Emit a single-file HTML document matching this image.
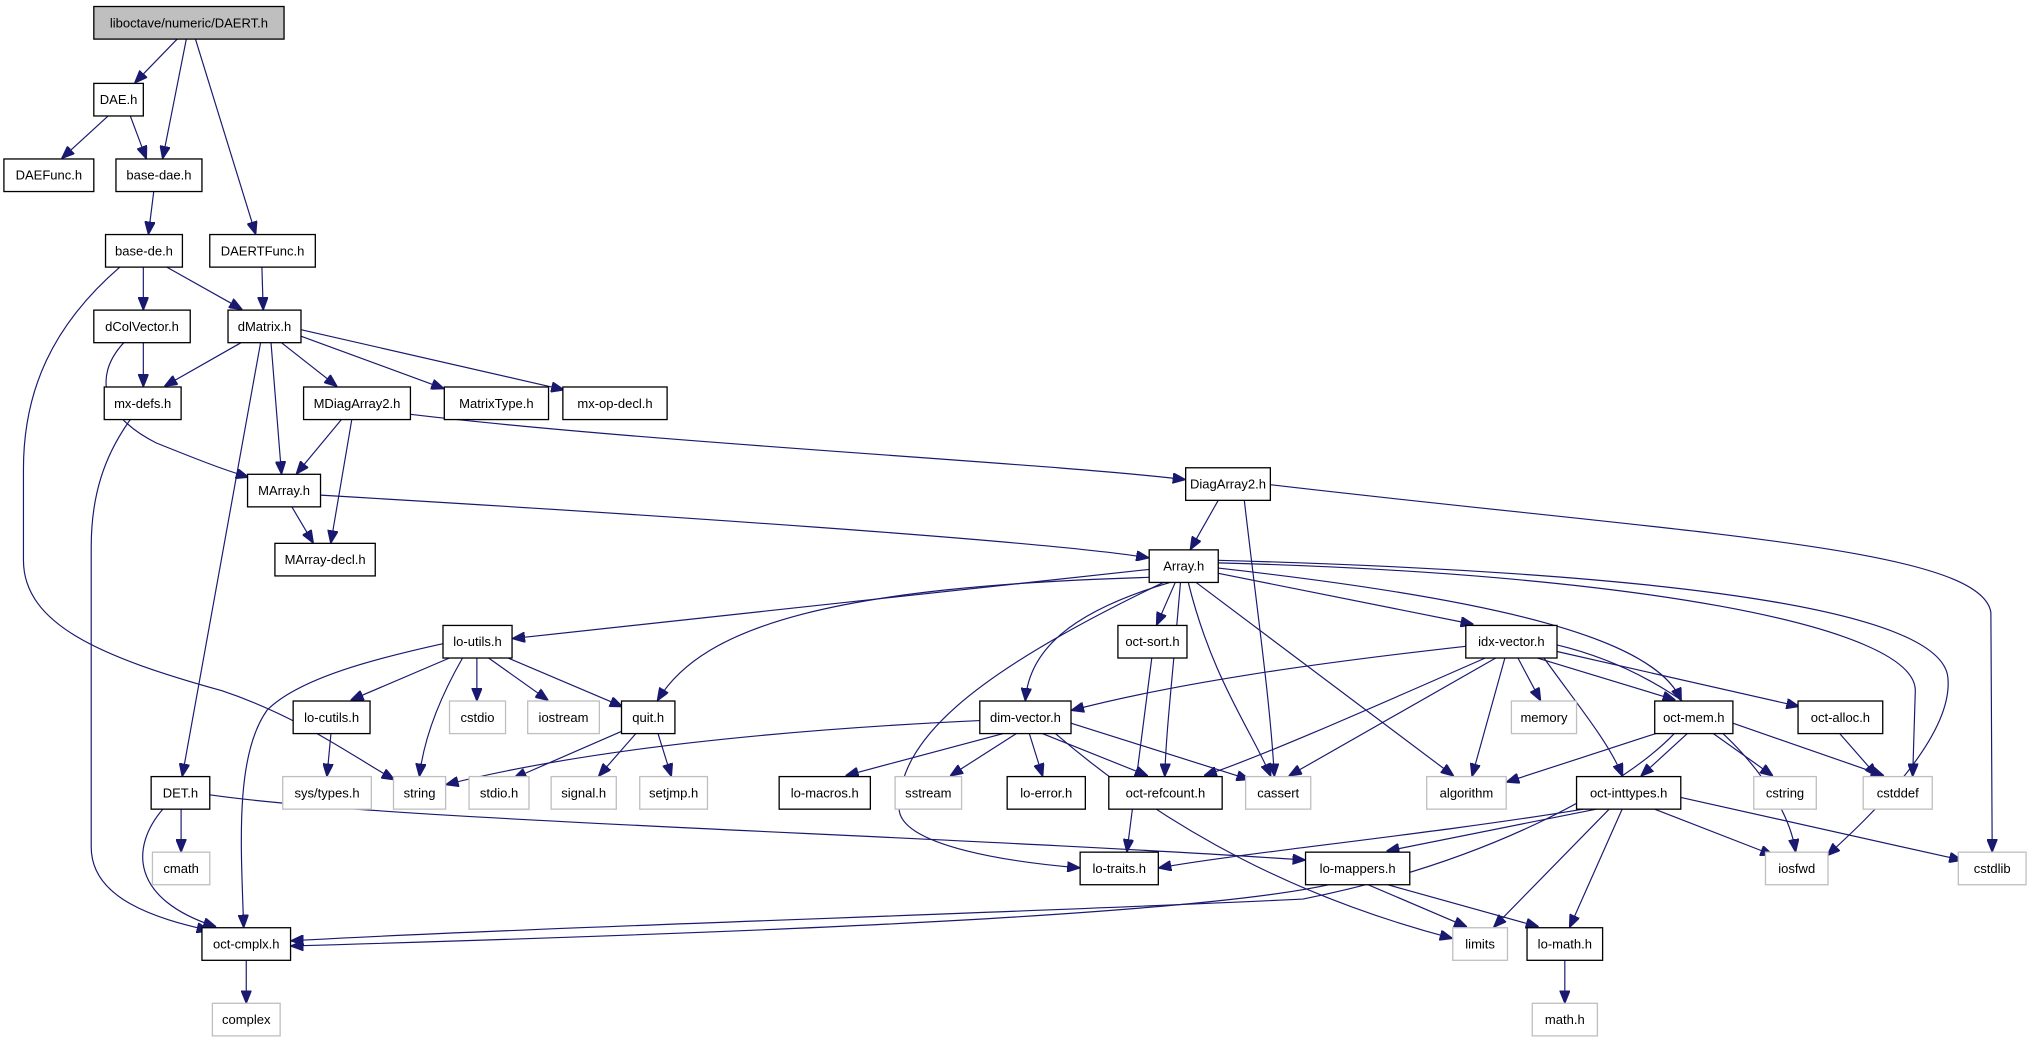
<!DOCTYPE html>
<html><head><meta charset="utf-8"><style>
html,body{margin:0;padding:0;background:#fff;}
svg{display:block;}
text{font-family:"Liberation Sans",sans-serif;font-size:10px;text-anchor:middle;dominant-baseline:central;fill:#000;}
.n{fill:#fff;stroke:#000;stroke-width:1;}
.g{fill:#fff;stroke:#bfbfbf;stroke-width:1;}
path{fill:none;stroke:#191970;stroke-width:0.9;marker-end:url(#a);}
</style></head><body>
<svg width="2043" height="1045" viewBox="0 0 1568 802" preserveAspectRatio="none" xmlns="http://www.w3.org/2000/svg">
<defs><marker id="a" markerUnits="userSpaceOnUse" markerWidth="10" markerHeight="8" refX="9" refY="4" orient="auto"><path d="M0,0 L10,4 L0,8 z" style="fill:#191970;stroke:#191970;marker-end:none"/></marker></defs>
<g>
<path d="M136,30 L104,63"/>
<path d="M143,30 L125,121"/>
<path d="M150,30 L196,179"/>
<path d="M83,89 L48,121"/>
<path d="M100,89 L112,121"/>
<path d="M118,147 L114,179"/>
<path d="M110,205 L110,237"/>
<path d="M128,205 L185,237"/>
<path d="M92,205 C40,250 18,300 18,360 L18,430 C18,480 80,505 170,530 C230,550 270,580 302,598"/>
<path d="M201,205 L202,237"/>
<path d="M110,263 L110,296"/>
<path d="M95,263 C70,290 80,320 120,340 C150,352 170,360 190,366"/>
<path d="M185,263 L127,296"/>
<path d="M208,263 L216,363"/>
<path d="M216,263 L258,296"/>
<path d="M231,258 L340,298"/>
<path d="M231,253 L432,299"/>
<path d="M200,263 L140,595"/>
<path d="M100,322 C80,350 70,380 70,420 L70,650 C70,690 120,705 160,714"/>
<path d="M262,322 L228,363"/>
<path d="M270,322 L254,416"/>
<path d="M315,318 C500,340 800,355 909,368"/>
<path d="M224,389 L240,416"/>
<path d="M246,380 C500,395 800,415 881,428"/>
<path d="M935,384 L914,421"/>
<path d="M955,384 C965,470 975,540 978,595"/>
<path d="M975,372 C1300,410 1520,420 1528,470 L1529,653"/>
<path d="M882,437 L394,490"/>
<path d="M885,443 C640,450 540,480 505,537"/>
<path d="M893,447 C740,520 690,570 690,620 C690,650 780,662 828,666"/>
<path d="M898,447 C820,470 790,500 787,537"/>
<path d="M902,447 L888,479"/>
<path d="M906,447 C900,520 895,560 894,595"/>
<path d="M912,447 C930,520 960,560 975,595"/>
<path d="M918,447 L1115,595"/>
<path d="M935,440 L1130,479"/>
<path d="M935,436 C1150,460 1270,490 1290,537"/>
<path d="M935,432 C1250,440 1470,480 1470,530 L1468,595"/>
<path d="M935,430 C1300,440 1490,470 1495,520 C1500,570 1420,640 1403,656"/>
<path d="M1125,496 C1000,510 900,525 823,545"/>
<path d="M1140,505 C1060,540 970,580 925,595"/>
<path d="M1148,505 L990,595"/>
<path d="M1165,505 L1182,537"/>
<path d="M1155,505 L1130,595"/>
<path d="M1180,505 L1285,537"/>
<path d="M1185,505 C1210,540 1235,570 1245,595"/>
<path d="M1195,500 L1380,542"/>
<path d="M1195,495 C1300,520 1370,600 1378,653"/>
<path d="M340,494 C290,505 230,520 205,545 C180,580 185,650 187,711"/>
<path d="M345,505 L270,537"/>
<path d="M355,505 C335,540 325,570 322,595"/>
<path d="M366,505 L366,537"/>
<path d="M375,505 L420,537"/>
<path d="M390,505 L477,542"/>
<path d="M480,560 L395,597"/>
<path d="M488,563 L460,595"/>
<path d="M505,563 L515,595"/>
<path d="M254,563 L251,595"/>
<path d="M752,553 C600,560 450,575 343,602"/>
<path d="M770,563 L650,595"/>
<path d="M780,563 L730,595"/>
<path d="M790,563 L800,595"/>
<path d="M800,563 L880,595"/>
<path d="M822,555 L958,598"/>
<path d="M810,563 C900,640 1000,690 1114,720"/>
<path d="M1280,560 L1157,600"/>
<path d="M1315,563 L1360,595"/>
<path d="M1330,555 L1445,595"/>
<path d="M1295,563 L1260,595"/>
<path d="M1285,563 C1250,600 1150,660 1000,690 C800,700 400,712 224,722"/>
<path d="M1412,563 L1440,595"/>
<path d="M884,505 L865,653"/>
<path d="M139,621 L139,653"/>
<path d="M125,621 C100,650 100,690 165,711"/>
<path d="M161,610 C300,630 700,640 1001,660"/>
<path d="M1215,621 C1100,640 950,655 890,666"/>
<path d="M1225,621 L1065,653"/>
<path d="M1235,621 L1147,711"/>
<path d="M1245,621 L1205,711"/>
<path d="M1270,621 L1360,656"/>
<path d="M1290,612 L1505,660"/>
<path d="M1020,679 C900,705 500,718 224,726"/>
<path d="M1050,679 L1125,711"/>
<path d="M1065,679 L1180,711"/>
<path d="M189,737 L189,769"/>
<path d="M1201,737 L1201,769"/>
</g>
<g>
<rect x="72" y="5" width="146" height="25" style="fill:#bfbfbf;stroke:#000"/><text x="145" y="17.5">liboctave/numeric/DAERT.h</text>
<rect class="n" x="72" y="64" width="38" height="25"/><text x="91" y="76.5">DAE.h</text>
<rect class="n" x="3" y="122" width="69" height="25"/><text x="37.5" y="134.5">DAEFunc.h</text>
<rect class="n" x="89" y="122" width="66" height="25"/><text x="122" y="134.5">base-dae.h</text>
<rect class="n" x="81" y="180" width="59" height="25"/><text x="110.5" y="192.5">base-de.h</text>
<rect class="n" x="161" y="180" width="81" height="25"/><text x="201.5" y="192.5">DAERTFunc.h</text>
<rect class="n" x="72" y="238" width="74" height="25"/><text x="109" y="250.5">dColVector.h</text>
<rect class="n" x="175" y="238" width="56" height="25"/><text x="203" y="250.5">dMatrix.h</text>
<rect class="n" x="80" y="297" width="59" height="25"/><text x="109.5" y="309.5">mx-defs.h</text>
<rect class="n" x="233" y="297" width="82" height="25"/><text x="274" y="309.5">MDiagArray2.h</text>
<rect class="n" x="341" y="297" width="80" height="25"/><text x="381" y="309.5">MatrixType.h</text>
<rect class="n" x="432" y="297" width="80" height="25"/><text x="472" y="309.5">mx-op-decl.h</text>
<rect class="n" x="190" y="364" width="56" height="25"/><text x="218" y="376.5">MArray.h</text>
<rect class="n" x="211" y="417" width="77" height="25"/><text x="249.5" y="429.5">MArray-decl.h</text>
<rect class="n" x="910" y="359" width="65" height="25"/><text x="942.5" y="371.5">DiagArray2.h</text>
<rect class="n" x="882" y="422" width="53" height="25"/><text x="908.5" y="434.5">Array.h</text>
<rect class="n" x="340" y="480" width="53" height="25"/><text x="366.5" y="492.5">lo-utils.h</text>
<rect class="n" x="858" y="480" width="53" height="25"/><text x="884.5" y="492.5">oct-sort.h</text>
<rect class="n" x="1125" y="480" width="70" height="25"/><text x="1160" y="492.5">idx-vector.h</text>
<rect class="n" x="225" y="538" width="59" height="25"/><text x="254.5" y="550.5">lo-cutils.h</text>
<rect class="g" x="345" y="538" width="43" height="25"/><text x="366.5" y="550.5">cstdio</text>
<rect class="g" x="405" y="538" width="55" height="25"/><text x="432.5" y="550.5">iostream</text>
<rect class="n" x="477" y="538" width="41" height="25"/><text x="497.5" y="550.5">quit.h</text>
<rect class="n" x="752" y="538" width="70" height="25"/><text x="787" y="550.5">dim-vector.h</text>
<rect class="g" x="1160" y="538" width="50" height="25"/><text x="1185" y="550.5">memory</text>
<rect class="n" x="1270" y="538" width="60" height="25"/><text x="1300" y="550.5">oct-mem.h</text>
<rect class="n" x="1380" y="538" width="65" height="25"/><text x="1412.5" y="550.5">oct-alloc.h</text>
<rect class="n" x="116" y="596" width="45" height="25"/><text x="138.5" y="608.5">DET.h</text>
<rect class="g" x="217" y="596" width="68" height="25"/><text x="251" y="608.5">sys/types.h</text>
<rect class="g" x="302" y="596" width="40" height="25"/><text x="322" y="608.5">string</text>
<rect class="g" x="360" y="596" width="46" height="25"/><text x="383" y="608.5">stdio.h</text>
<rect class="g" x="423" y="596" width="50" height="25"/><text x="448" y="608.5">signal.h</text>
<rect class="g" x="491" y="596" width="52" height="25"/><text x="517" y="608.5">setjmp.h</text>
<rect class="n" x="598" y="596" width="70" height="25"/><text x="633" y="608.5">lo-macros.h</text>
<rect class="g" x="687" y="596" width="51" height="25"/><text x="712.5" y="608.5">sstream</text>
<rect class="n" x="773" y="596" width="60" height="25"/><text x="803" y="608.5">lo-error.h</text>
<rect class="n" x="851" y="596" width="87" height="25"/><text x="894.5" y="608.5">oct-refcount.h</text>
<rect class="g" x="956" y="596" width="50" height="25"/><text x="981" y="608.5">cassert</text>
<rect class="g" x="1095" y="596" width="61" height="25"/><text x="1125.5" y="608.5">algorithm</text>
<rect class="n" x="1210" y="596" width="80" height="25"/><text x="1250" y="608.5">oct-inttypes.h</text>
<rect class="g" x="1346" y="596" width="48" height="25"/><text x="1370" y="608.5">cstring</text>
<rect class="g" x="1430" y="596" width="53" height="25"/><text x="1456.5" y="608.5">cstddef</text>
<rect class="g" x="117" y="654" width="44" height="25"/><text x="139" y="666.5">cmath</text>
<rect class="n" x="829" y="654" width="60" height="25"/><text x="859" y="666.5">lo-traits.h</text>
<rect class="n" x="1002" y="654" width="80" height="25"/><text x="1042" y="666.5">lo-mappers.h</text>
<rect class="g" x="1355" y="654" width="48" height="25"/><text x="1379" y="666.5">iosfwd</text>
<rect class="g" x="1503" y="654" width="52" height="25"/><text x="1529" y="666.5">cstdlib</text>
<rect class="n" x="155" y="712" width="68" height="25"/><text x="189" y="724.5">oct-cmplx.h</text>
<rect class="g" x="1115" y="712" width="42" height="25"/><text x="1136" y="724.5">limits</text>
<rect class="n" x="1172" y="712" width="58" height="25"/><text x="1201" y="724.5">lo-math.h</text>
<rect class="g" x="163" y="770" width="52" height="25"/><text x="189" y="782.5">complex</text>
<rect class="g" x="1176" y="770" width="50" height="25"/><text x="1201" y="782.5">math.h</text>
</g>
</svg>
</body></html>
